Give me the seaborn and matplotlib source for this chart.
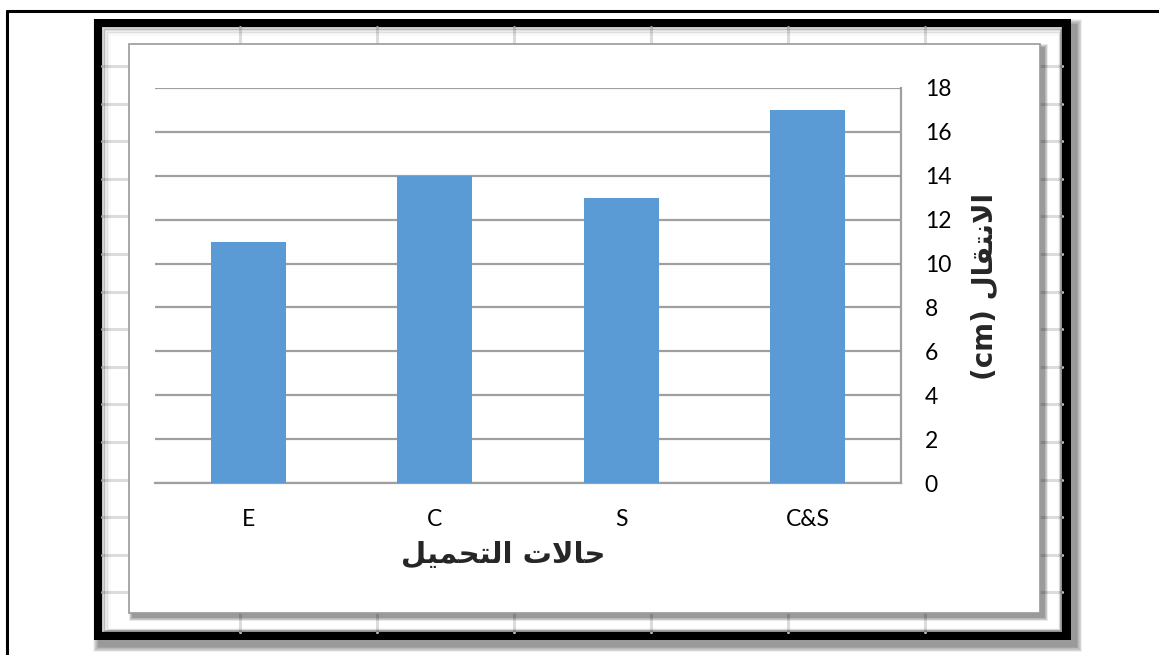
import matplotlib
matplotlib.use("Agg")
import matplotlib.pyplot as plt
from matplotlib.patches import Rectangle
from matplotlib.lines import Line2D
import seaborn as sns

# Loading cases and measured displacement (cm)
cases = ["E", "C", "S", "C&S"]
displacement = [11, 14, 13, 17]
y_ticks = [0, 2, 4, 6, 8, 10, 12, 14, 16, 18]

# Arabic titles written in visual (presentation-form) order
x_title = "\uFEDE\uFEF4\uFEE4\uFEA4\uFE98\uFEDF\uFE8D \uFE95\uFEFB\uFE8E\uFEA3"   # حالات التحميل
y_title = "(cm) \uFEDD\uFE8E\uFED8\uFE98\uFEE7\uFEFB\uFE8D"                      # الانتقال (cm)

sns.set_style("white")
plt.rcParams["font.family"] = ["Lato", "DejaVu Sans"]

W, H = 1159, 655
fig = plt.figure(figsize=(W / 100, H / 100), dpi=100)
fig.patch.set_facecolor("white")


def box(x0, y0, x1, y1, **kw):
    """Rectangle given in pixel coordinates measured from the top-left corner."""
    r = Rectangle((x0 / W, 1 - y1 / H), (x1 - x0) / W, (y1 - y0) / H,
                  transform=fig.transFigure, **kw)
    fig.add_artist(r)
    return r


def hline(x0, x1, y, **kw):
    fig.add_artist(Line2D([x0 / W, x1 / W], [1 - y / H, 1 - y / H],
                          transform=fig.transFigure, **kw))


def vline(x, y0, y1, **kw):
    fig.add_artist(Line2D([x / W, x / W], [1 - y0 / H, 1 - y1 / H],
                          transform=fig.transFigure, **kw))


def soft_shadow(x0, y0, x1, y1, dx, dy, spread, steps=8, alpha=0.07, z=0):
    for k in range(steps):
        r = spread * (1 - k / steps)
        box(x0 + dx - r, y0 + dy - r, x1 + dx + r, y1 + dy + r,
            facecolor="black", edgecolor="none", alpha=alpha, zorder=z)


# page border (thin black line on top and left)
hline(7, W, 11, color="black", lw=2.2, zorder=1)
vline(7, 11, H, color="black", lw=2.2, zorder=1)

# heavy picture frame with drop shadow
soft_shadow(94, 19, 1071, 640, 5, 6, 6, alpha=0.06, z=2)
box(94, 19, 1071, 640, facecolor="black", edgecolor="none", zorder=3)
box(102, 27, 1062, 632, facecolor="white", edgecolor="none", zorder=4)

# faint worksheet cells behind the chart
cell_y = [27 + 37.6 * i + 1.4 for i in range(1, 16)]
for yy in cell_y:
    if yy < 632:
        hline(102, 1062, yy, color="#dcdcdc", lw=2.2, zorder=5)
for xx in [240, 377, 514, 651, 788, 925]:
    vline(xx, 27, 632, color="#dcdcdc", lw=2.2, zorder=5)

# bevel along the inner edge of the frame
for k, a in enumerate([0.3, 0.22, 0.15, 0.1, 0.06, 0.03]):
    box(102 + k * 1.5, 27 + k * 1.5, 1062 - k * 0.6, 632 - k * 0.6,
        facecolor="none", edgecolor="black", lw=1.1, alpha=a, zorder=6)

# chart area with its shadow
soft_shadow(129, 44, 1040, 613, 4, 4, 4, steps=6, alpha=0.08, z=7)
box(129, 44, 1040, 613, facecolor="white", edgecolor="#9a9a9a", lw=1.2, zorder=8)

# plot axes
ax = fig.add_axes([155 / W, 1 - 483 / H, (901 - 155) / W, (483 - 88) / H], zorder=10)
ax.patch.set_alpha(0)

sns.barplot(x=cases, y=displacement, color="#5B9BD5", saturation=1,
            width=0.4, ax=ax, zorder=3, edgecolor="none")

ax.set_ylim(0, 18)
ax.set_yticks(y_ticks)
ax.yaxis.tick_right()
ax.grid(axis="y", color="#9f9f9f", lw=1.6)
ax.grid(axis="x", visible=False)
ax.set_axisbelow(True)
for side in ["top", "left"]:
    ax.spines[side].set_visible(False)
for side in ["right", "bottom"]:
    ax.spines[side].set_color("#9f9f9f")
    ax.spines[side].set_linewidth(1.6)

ax.tick_params(axis="y", length=0, pad=17, labelsize=16.5, labelcolor="black")
ax.tick_params(axis="x", length=0, pad=19, labelsize=16.5, labelcolor="black")
ax.set_xlabel("")
ax.set_ylabel("")

fig.text(503 / W, 1 - 555 / H, x_title, ha="center", va="center",
         fontsize=21, fontweight="bold", family="DejaVu Sans", zorder=11)
fig.text(985 / W, 1 - 287 / H, y_title, ha="center", va="center",
         rotation=90, fontsize=20, fontweight="bold", family="DejaVu Sans", zorder=11)

fig.savefig("out.png", dpi=100)
